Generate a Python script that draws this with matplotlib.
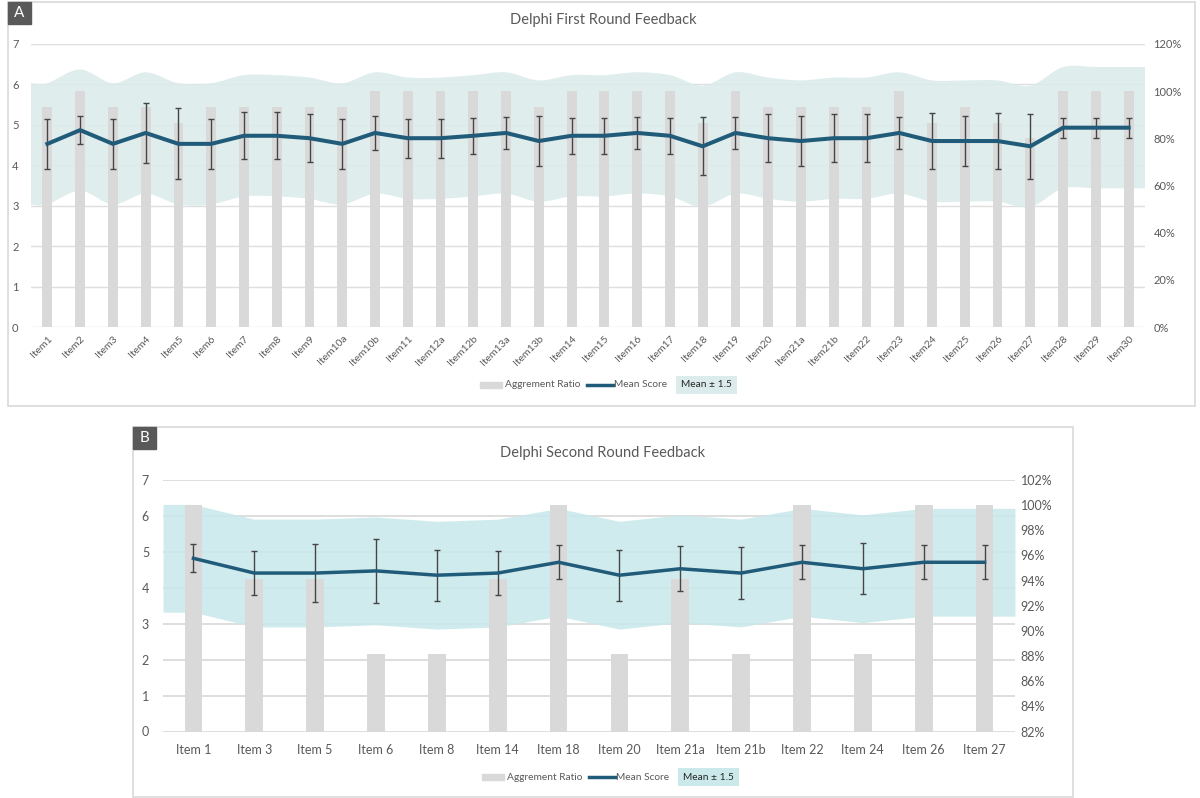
import numpy as np
import matplotlib.pyplot as plt
from matplotlib.path import Path
from matplotlib.patches import PathPatch, Rectangle
from matplotlib.lines import Line2D

plt.rcParams['font.family'] = ['Lato', 'DejaVu Sans']

W, H = 1200, 798

# round 1 (panel A)
items_a = ['Item1', 'Item2', 'Item3', 'Item4', 'Item5', 'Item6', 'Item7', 'Item8', 'Item9',
           'Item10a', 'Item10b', 'Item11', 'Item12a', 'Item12b', 'Item13a', 'Item13b',
           'Item14', 'Item15', 'Item16', 'Item17', 'Item18', 'Item19', 'Item20',
           'Item21a', 'Item21b', 'Item22', 'Item23', 'Item24', 'Item25', 'Item26',
           'Item27', 'Item28', 'Item29', 'Item30']
ratio_a = [93.3, 100, 93.3, 93.3, 86.7, 93.3, 93.3, 93.3, 93.3, 93.3, 100, 100, 100, 100,
           100, 93.3, 100, 100, 100, 100, 86.7, 100, 93.3, 93.3, 93.3, 93.3, 100, 86.7,
           93.3, 86.7, 80, 100, 100, 100]
mean_a = [4.53, 4.87, 4.53, 4.80, 4.53, 4.53, 4.73, 4.73, 4.67, 4.53, 4.80, 4.67, 4.67,
          4.73, 4.80, 4.60, 4.73, 4.73, 4.80, 4.73, 4.47, 4.80, 4.67, 4.60, 4.67, 4.67,
          4.80, 4.60, 4.60, 4.60, 4.47, 4.93, 4.93, 4.93]
sd_a = [0.62, 0.35, 0.62, 0.75, 0.88, 0.62, 0.58, 0.58, 0.60, 0.62, 0.41, 0.48, 0.48,
        0.45, 0.40, 0.62, 0.44, 0.44, 0.40, 0.44, 0.72, 0.40, 0.60, 0.62, 0.60, 0.60,
        0.40, 0.70, 0.62, 0.70, 0.81, 0.25, 0.25, 0.25]

# round 2 (panel B)
items_b = ['Item 1', 'Item 3', 'Item 5', 'Item 6', 'Item 8', 'Item 14', 'Item 18',
           'Item 20', 'Item 21a', 'Item 21b', 'Item 22', 'Item 24', 'Item 26', 'Item 27']
ratio_b = [100, 94.1, 94.1, 88.2, 88.2, 94.1, 100, 88.2, 94.1, 88.2, 100, 88.2, 100, 100]
mean_b = [4.82, 4.41, 4.41, 4.47, 4.35, 4.41, 4.71, 4.35, 4.53, 4.41, 4.71, 4.53, 4.71, 4.71]
sd_b = [0.39, 0.61, 0.80, 0.88, 0.71, 0.61, 0.47, 0.71, 0.63, 0.72, 0.47, 0.71, 0.47, 0.47]

BAND_HALF = 1.5
LINE_C = '#215b7a'
BAR_C = '#d9d9d9'
TXT_C = '#595959'


def fx(px):
    return px / W


def fy(py):
    return 1 - py / H


def smooth_verts(xs, ys):
    # catmull-rom -> cubic bezier control points
    pts = np.column_stack([xs, ys]).astype(float)
    n = len(pts)
    verts = [pts[0]]
    for i in range(n - 1):
        p0 = pts[max(i - 1, 0)]
        p1, p2 = pts[i], pts[i + 1]
        p3 = pts[min(i + 2, n - 1)]
        verts += [p1 + (p2 - p0) / 6, p2 - (p3 - p1) / 6, p2]
    return verts


def band(ax, x, mean, color, smooth):
    xs = np.r_[x[0] - 0.5, x, x[-1] + 0.5]
    m = np.r_[mean[0], mean, mean[-1]]
    top, bot = m + BAND_HALF, m - BAND_HALF
    if not smooth:
        ax.fill_between(xs, bot, top, color=color, lw=0, alpha=0.9, zorder=1)
        return
    tv = smooth_verts(xs, top)
    bv = smooth_verts(xs[::-1], bot[::-1])
    verts = tv + bv + [tv[0]]
    codes = ([Path.MOVETO] + [Path.CURVE4] * (len(tv) - 1) + [Path.LINETO]
             + [Path.CURVE4] * (len(bv) - 1) + [Path.CLOSEPOLY])
    ax.add_patch(PathPatch(Path(verts, codes), fc=color, lw=0, alpha=0.9, zorder=1))


def panel(rect, items, ratio, mean, sd, pct_lim, pct_ticks, band_c, smooth, cfg):
    x = np.arange(len(items))
    ax = fig.add_axes(rect)
    axp = ax.twinx()
    axl = ax.twinx()

    ax.set_ylim(0, 7)
    ax.set_yticks(range(8))
    ax.set_xlim(-0.5, len(items) - 0.5)
    ax.grid(axis='y', color='#dedede', lw=cfg['grid_lw'])
    ax.set_axisbelow(True)
    band(ax, x, mean, band_c, smooth)

    axp.bar(x, ratio, width=cfg['bar_w'], color=BAR_C, zorder=2)
    axp.set_ylim(*pct_lim)
    axp.set_yticks(pct_ticks)
    axp.set_yticklabels([f'{t}%' for t in pct_ticks])

    axl.set_ylim(0, 7)
    axl.errorbar(x, mean, yerr=sd, fmt='none', ecolor='#454545', elinewidth=1.0,
                 capsize=cfg['cap'], capthick=1.0, zorder=3)
    axl.plot(x, mean, color=LINE_C, lw=cfg['line_lw'], solid_joinstyle='round', zorder=4)
    axl.set_yticks([])

    ax.set_xticks(x)
    if cfg['rot']:
        ax.set_xticklabels(items, rotation=45, ha='right', rotation_mode='anchor')
    else:
        ax.set_xticklabels(items)
    ax.tick_params(axis='x', length=0, pad=cfg['xpad'], labelsize=cfg['xsize'], colors=TXT_C)
    ax.tick_params(axis='y', length=0, pad=cfg['lpad'], labelsize=cfg['ysize'], colors=TXT_C)
    axp.tick_params(axis='y', length=0, pad=cfg['rpad'], labelsize=cfg['ysize'], colors=TXT_C)
    for a in (ax, axp, axl):
        for s in a.spines.values():
            s.set_visible(False)
    return ax


def legend_row(ypx, x0, band_c, size):
    y = fy(ypx)
    fig.add_artist(Rectangle((fx(x0), y - 3 / H), fx(22), 6 / H, color=BAR_C,
                             transform=fig.transFigure))
    fig.text(fx(x0 + 25), y, 'Aggrement Ratio', size=size, color=TXT_C, va='center')
    fig.add_artist(Line2D([fx(x0 + 107), fx(x0 + 133)], [y, y], color=LINE_C, lw=2.5,
                          transform=fig.transFigure))
    fig.text(fx(x0 + 134), y, 'Mean Score', size=size, color=TXT_C, va='center')
    fig.text(fx(x0 + 201), y, 'Mean \u00b1 1.5', size=size, color='#262626', va='center',
             bbox=dict(fc=band_c, ec='none', pad=3.5))


def frame(x0, y0, x1, y1, label):
    fig.add_artist(Rectangle((fx(x0), fy(y1)), fx(x1 - x0), (y1 - y0) / H, fill=False,
                             ec='#d9d9d9', lw=1.2, transform=fig.transFigure))
    fig.add_artist(Rectangle((fx(x0), fy(y0 + 22)), fx(23), 22 / H, color='#595959',
                             transform=fig.transFigure))
    fig.text(fx(x0 + 11.5), fy(y0 + 11), label, color='white', size=11,
             ha='center', va='center')


fig = plt.figure(figsize=(12, 7.98), dpi=100)

# panel A
frame(8, 2, 1195, 406, 'A')
fig.text(fx(603), fy(20), 'Delphi First Round Feedback', ha='center', va='center',
         size=10.5, color=TXT_C)
panel([fx(31), fy(327), fx(1145 - 31), (327 - 44) / H], items_a, ratio_a, mean_a, sd_a,
      (0, 120), list(range(0, 121, 20)), '#dcebeb', True,
      dict(bar_w=0.3, grid_lw=1.0, cap=2.2, line_lw=2.9, rot=True, xpad=5, xsize=7.5,
           ysize=8, lpad=9, rpad=6))
legend_row(385, 480, '#dcebeb', 7.3)

# panel B
frame(133, 427, 1073, 797, 'B')
fig.text(fx(603), fy(453), 'Delphi Second Round Feedback', ha='center', va='center',
         size=10.5, color=TXT_C)
panel([fx(163), fy(731.5), fx(1015 - 163), (731.5 - 480) / H], items_b, ratio_b, mean_b,
      sd_b, (82, 102), list(range(82, 103, 2)), '#cbe9eb', False,
      dict(bar_w=0.29, grid_lw=1.4, cap=2.5, line_lw=2.5, rot=False, xpad=9, xsize=9,
           ysize=9, lpad=10, rpad=4))
legend_row(777, 482, '#cbe9eb', 7.3)

fig.savefig('out.png', dpi=100)
